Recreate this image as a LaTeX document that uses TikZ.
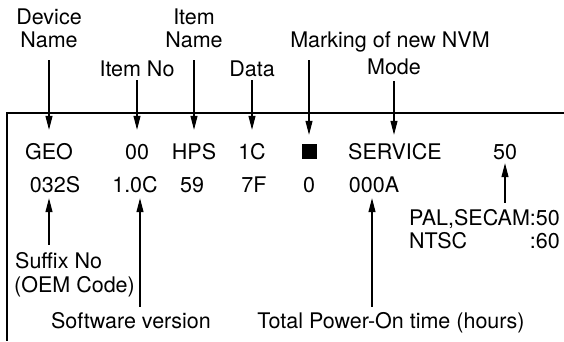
\documentclass[tikz,border=0pt]{standalone}
\usepackage{fontspec}
\setmainfont{TeX Gyre Heros}
\usetikzlibrary{arrows.meta}
\begin{document}
\begin{tikzpicture}[x=1pt,y=-1pt,
  txt/.style={inner sep=0pt, anchor=base, font=\fontsize{21.5}{25}\selectfont, text height=15pt, text depth=4pt},
  arr/.style={-{Triangle[length=14pt,width=7pt]}, line width=1.1pt},
  framel/.style={line width=1.3pt}]
\useasboundingbox (0,0) rectangle (564,341);
% frame
\coordinate (fTL) at (7,113);
\coordinate (fTR) at (564,113);
\coordinate (fBL) at (7,341);
\draw[framel] (fTR) -- (fTL) -- (fBL);
% top labels
\node[txt] (devA) at (49,24) {Device};
\node[txt] (devB) at (49,47) {Name};
\node[txt] (itemno) at (137,76) {Item No};
\node[txt] (inameA) at (194,24) {Item};
\node[txt] (inameB) at (194,47) {Name};
\node[txt] (data) at (252,76) {Data};
\node[txt] (mark) at (390,47) {Marking of new NVM};
\node[txt] (mode) at (394,74) {Mode};
% row 1
\node[txt] (geo) at (49,159) {GEO};
\node[txt] (n00) at (137,159) {00};
\node[txt] (hps) at (194,159) {HPS};
\node[txt] (c1c) at (252,159) {1C};
\node[fill, minimum size=15pt, inner sep=0pt] (sq) at (309,151) {};
\node[txt] (service) at (395,159) {SERVICE};
\node[txt] (f50) at (505,159) {50};
% row 2
\node[txt] (c032) at (55,192) {032S};
\node[txt] (v10) at (135,192) {1.0C};
\node[txt] (n59) at (192,192) {59};
\node[txt] (h7f) at (254,192) {7F};
\node[txt] (z0) at (309,192) {0};
\node[txt] (h000a) at (374,192) {000A};
% bottom labels
\node[txt, anchor=base west] (suffix) at (15,268) {Suffix No};
\node[txt, anchor=base west] (oem) at (14,292) {(OEM Code)};
\node[txt] (softver) at (131,328) {Software version};
\node[txt] (total) at (391,328) {Total Power-On time (hours)};
\node[txt, anchor=base west] (pal) at (409,225) {PAL,SECAM:50};
\node[txt, anchor=base west] (ntsc) at (409,248) {NTSC};
\node[txt, anchor=base east] (n60) at (560,248) {:60};
% arrows down
\draw[arr, shorten <=9pt, shorten >=14pt] (devB.south) -- (geo.north);
\draw[arr, shorten >=14pt] (itemno.south) -- (n00.north);
\draw[arr, shorten <=9pt, shorten >=14pt] (inameB.south) -- (hps.north);
\draw[arr, shorten >=14pt] (data.south) -- (c1c.north);
\draw[arr, shorten <=9pt, shorten >=8.5pt] (mark.south -| sq.north) -- (sq.north);
\draw[arr, shorten <=3pt, shorten >=9pt] (mode.south) -- (service.north -| mode.south);
% arrows up
\draw[arr, shorten <=8pt, shorten >=2pt] (suffix.north -| geo.south) -- (c032.south -| geo.south);
\draw[arr, shorten <=6pt, shorten >=2pt] ([xshift=9pt]softver.north) -- ([xshift=5pt]v10.south);
\draw[arr, shorten <=6pt, shorten >=2pt] ([xshift=-19pt]total.north) -- ([xshift=-2pt]h000a.south);
\draw[arr, shorten <=7pt] (pal.north -| f50.south) -- (f50.south);
\end{tikzpicture}
\end{document}
